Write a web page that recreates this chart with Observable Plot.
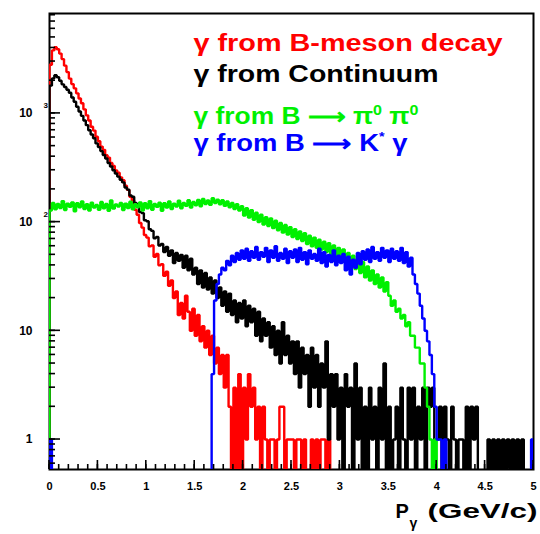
<!DOCTYPE html>
<html><head><meta charset="utf-8">
<script src="https://cdn.jsdelivr.net/npm/d3@7"></script>
<script src="https://cdn.jsdelivr.net/npm/@observablehq/plot@0.6"></script>
<style>
html,body{margin:0;padding:0;background:#fff;}
#chart{width:540px;height:534px;}
</style></head><body><div id="chart"></div>
<script>
// histogram bins: 200 bins of 0.025 GeV/c from 0 to 5
const binWidth = 0.025;
const xDomain = [0, 5];
const yDomain = [0.53, 8300];
const xTicks = [0, 0.5, 1, 1.5, 2, 2.5, 3, 3.5, 4, 4.5, 5];
const yTicks = [1, 10, 100, 1000];
const yTickMantissa = ["1", "10", "10", "10"];
const yTickExponent = ["", "", "2", "3"];
const legendLabels = ["γ from B-meson decay", "γ from Continuum", "γ from B ⟶ π0 π0", "γ from B ⟶ K* γ"];
const axisTitle = ["P", "γ", "(GeV/c)"];

const redBMeson = [
  2800,3800,4070,3890,3550,3160,2750,2400,2090,1860,
  1700,1530,1370,1240,1090,960,860,755,695,610,
  555,495,462,412,392,350,328,298,285,258,
  243,216,198,171,158,130,117,98,89,76,
  72,60,61,48,51,40,41,32,35,26,
  29,20,23,14,18,13,21,15,10,16,
  9,14,8,11,7,10,6,9,5,7,
  4,6,3,6,2,0,3,0,4,0,
  3,1,4,2,3,1,2,0,2,1,
  0,1,1,0,1,2,2,0,1,1,
  1,0,1,1,0,1,0,0,1,0,
  1,0,1,1,0,1,0,0,0,0,
  0,0,0,0,0,0,0,0,0,0,
  0,0,0,0,0,0,0,0,0,0,
  0,0,0,0,0,0,0,0,0,0,
  0,0,0,0,0,0,0,0,0,0,
  0,0,0,0,0,0,0,0,0,0,
  0,0,0,0,0,0,0,0,0,0,
  0,0,0,0,0,0,0,0,0,0,
  0,0,0,0,0,0,0,0,0,0
];
const blackContinuum = [
  1800,2100,2250,2150,2000,1850,1750,1650,1550,1400,
  1280,1150,1040,950,860,780,700,640,590,530,
  490,450,415,385,350,325,300,280,262,245,
  232,208,199,176,171,150,146,124,121,104,
  102,86,83,71,73,61,63,53,59,49,
  55,42,52,44,50,38,49,36,46,33,
  38,27,36,25,34,24,31,22,29,20,
  25,17,23,15,22,14,19,12,18,13,
  19,11,17,12,16,9,15,8,13,9,
  12,7,11,6,10,5,12,6,9,5,
  8,4,8,3,7,4,6,2,7,3,
  6,2,5,3,8,1,4,2,4,1,
  3,0,4,2,3,0,5,1,3,0,
  2,0,3,1,2,0,3,1,5,0,
  2,0,1,2,0,3,1,0,3,1,
  3,0,2,1,3,0,3,2,3,1,
  1,2,0,2,1,0,2,1,0,1,
  1,0,2,0,2,1,2,0,0,0,
  0,1,0,1,0,1,0,1,0,1,
  0,1,0,1,0,1,0,0,0,0
];
const greenPi0Pi0 = [
  128,150,131,147,135,156,129,148,138,152,
  126,149,137,155,132,146,128,151,136,144,
  130,153,134,147,127,158,133,145,139,150,
  129,148,135,154,131,146,137,152,128,149,
  134,156,130,147,138,151,127,149,136,155,
  132,148,139,157,134,150,141,159,136,153,
  143,160,140,163,147,158,144,166,150,161,
  146,159,141,155,137,150,132,146,128,140,
  115,134,110,129,105,122,100,117,95,111,
  92,108,88,103,84,98,80,94,77,90,
  73,86,70,82,67,79,63,75,60,72,
  58,69,56,66,53,64,51,61,49,58,
  46,56,43,52,40,49,37,46,34,43,
  31,39,29,36,27,33,25,31,23,28,
  21,17,19,15,16,13,14,11,12,9,
  9,7,7,5,5,3,2,1,0,1,
  0,0,0,0,0,0,0,0,0,0,
  0,0,0,0,0,0,0,0,0,0,
  0,0,0,0,0,0,0,0,0,0,
  0,0,0,0,0,0,0,0,0,0
];
const blueKstarGamma = [
  1,0,0,0,0,0,0,0,0,0,
  0,0,0,0,0,0,0,0,0,0,
  0,0,0,0,0,0,0,0,0,0,
  0,0,0,0,0,0,0,0,0,0,
  0,0,0,0,0,0,0,0,0,0,
  0,0,0,0,0,0,0,0,0,0,
  0,0,0,0,0,0,0,4,19,27,
  33,38,36,44,40,49,43,52,45,55,
  46,57,44,54,47,59,45,53,48,58,
  43,55,47,60,44,52,46,57,42,54,
  47,56,43,58,45,53,41,55,46,51,
  44,57,42,53,39,50,43,55,40,49,
  42,51,36,48,33,45,38,52,41,54,
  45,56,43,59,46,53,44,58,47,55,
  43,57,46,54,44,58,42,53,39,47,
  33,27,22,17,13,10,8,6,4,2,
  1,1,0,1,0,0,0,0,0,0,
  0,0,0,0,0,0,0,0,0,0,
  0,0,0,0,0,0,0,0,0,0,
  0,0,0,0,0,0,0,0,0,1
];
const seriesColors = ["#ff0000", "#000000", "#00f000", "#0000ff"];

// empty bins are drawn below the frame (clipped), as in a log-scale histogram
const FLOOR = 0.05;
function stepPoints(vals) {
  const pts = [{p: 0, n: FLOOR}];
  vals.forEach((v, i) => {
    const n = v > 0 ? v : FLOOR;
    pts.push({p: i * binWidth, n}, {p: (i + 1) * binWidth, n});
  });
  pts.push({p: vals.length * binWidth, n: FLOOR});
  return pts;
}
const series = [redBMeson, blackContinuum, greenPi0Pi0, blueKstarGamma];

// minor tick positions from the scales' own tick generators
const xMinor = d3.ticks(xDomain[0], xDomain[1], 50);
const yMinor = d3.scaleLog().domain(yDomain).ticks(40);

const W = 540, H = 534, ML = 49, MR = 7, MT = 13, MB = 65;

const font = "'Liberation Sans', Arial, Helvetica, sans-serif";
const legendStyle = {text: d => d, frameAnchor: "top-left", dx: 144, lineAnchor: "bottom", textAnchor: "start", fontSize: 23, fontWeight: "bold"};
const chart = Plot.plot({
  width: W, height: H,
  marginLeft: ML, marginRight: MR, marginTop: MT, marginBottom: MB,
  x: {domain: xDomain, label: null},
  y: {type: "log", domain: yDomain, label: null},
  style: {background: "white", fontFamily: font, color: "black"},
  marks: [
    Plot.frame({stroke: "black", strokeWidth: 2}),
    Plot.axisX(xTicks, {tickSize: 0, tickPadding: 13, tickFormat: d => String(d), fontSize: 11, fontWeight: "bold", label: null}),
    Plot.axisY(yTicks, {tickSize: 0, tickPadding: 17, tickFormat: d => yTickMantissa[yTicks.indexOf(d)], fontSize: 12, fontWeight: "bold", label: null}),
    Plot.text(yTicks, {y: d => d, text: (d, i) => yTickExponent[i], frameAnchor: "left", textAnchor: "start", dx: -6, dy: -8, fontSize: 8, fontWeight: "bold"}),
    ...series.map((vals, k) => Plot.line(stepPoints(vals), {x: "p", y: "n", stroke: seriesColors[k], strokeWidth: 2.4, clip: true, strokeLinejoin: "miter", strokeLinecap: "butt"})),
    Plot.text([legendLabels[0]], {...legendStyle, dy: 37.5, fill: seriesColors[0]}),
    Plot.text([legendLabels[1]], {...legendStyle, dy: 68, fill: seriesColors[1]}),
    Plot.text([legendLabels[2]], {...legendStyle, dy: 110, fill: seriesColors[2]}),
    Plot.text([legendLabels[3]], {...legendStyle, dy: 137, fill: seriesColors[3]}),
    Plot.text([axisTitle[0]], {text: d => d, frameAnchor: "bottom-left", dx: 346, dy: 48, lineAnchor: "bottom", textAnchor: "start", fontSize: 20, fontWeight: "bold"}),
    Plot.text([axisTitle[1]], {text: d => d, frameAnchor: "bottom-left", dx: 360, dy: 58, lineAnchor: "bottom", textAnchor: "start", fontSize: 14, fontWeight: "bold"}),
    Plot.text([axisTitle[2]], {text: d => d, frameAnchor: "bottom-left", dx: 378, dy: 48, lineAnchor: "bottom", textAnchor: "start", fontSize: 20, fontWeight: "bold"})
  ]
});
document.getElementById("chart").appendChild(chart);

const svg = d3.select(chart);

// inward ROOT-style ticks, placed with the chart's own scales, drawn on top
const xs = chart.scale("x"), ys = chart.scale("y");
const bottom = H - MB, left = ML;
const tickG = svg.append("g").attr("stroke", "black").attr("stroke-width", 1.6).attr("fill", "none");
xMinor.forEach(v => { const x = xs.apply(v); tickG.append("line").attr("x1", x).attr("x2", x).attr("y1", bottom).attr("y2", bottom - 5); });
xTicks.forEach(v => { const x = xs.apply(v); tickG.append("line").attr("x1", x).attr("x2", x).attr("y1", bottom).attr("y2", bottom - 9); });
yMinor.forEach(v => { const y = ys.apply(v); tickG.append("line").attr("x1", left).attr("x2", left + 6).attr("y1", y).attr("y2", y); });
yTicks.forEach(v => { const y = ys.apply(v); tickG.append("line").attr("x1", left).attr("x2", left + 11).attr("y1", y).attr("y2", y); });

// stretch the wide ROOT-style labels and add superscripts
function fit(label, len, html) {
  svg.selectAll("text").filter(function() { return this.textContent === label; })
    .each(function() {
      const t = d3.select(this);
      if (html) t.html(html);
      t.attr("textLength", len).attr("lengthAdjust", "spacingAndGlyphs");
    });
}
fit(legendLabels[0], 309);
fit(legendLabels[1], 245);
fit(legendLabels[2], 225, 'γ from B ⟶ π<tspan dy="-9" font-size="14">0</tspan><tspan dy="9"> π</tspan><tspan dy="-9" font-size="14">0</tspan>');
fit(legendLabels[3], 214, 'γ from B ⟶ K<tspan dy="-10" font-size="12">*</tspan><tspan dy="10"> γ</tspan>');
fit(axisTitle[2], 110);
</script>
</body></html>
